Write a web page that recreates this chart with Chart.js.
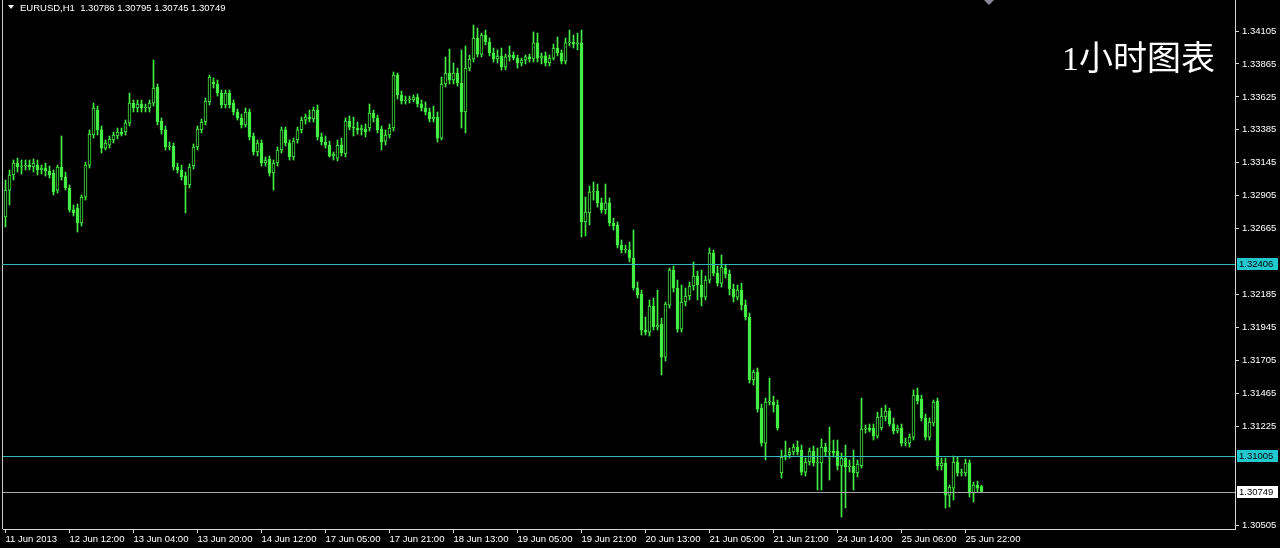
<!DOCTYPE html>
<html>
<head>
<meta charset="utf-8">
<title>EURUSD,H1</title>
<script src="https://cdn.jsdelivr.net/npm/chart.js@4.4.1/dist/chart.umd.min.js"></script>
<style>
  html, body { margin: 0; padding: 0; background: #000; }
  #wrap { width: 1280px; height: 548px; }
</style>
</head>
<body>
<div id="wrap"><canvas id="chart" width="1280" height="548"></canvas></div>
<script>
// EURUSD H1 candles (one bar per hour)
const symbol = 'EURUSD,H1'

const opens = [
  1.32750, 1.32946, 1.33056, 1.33143, 1.33114, 1.33121, 1.33128, 1.33114, 1.33128, 1.33092,
  1.33107, 1.33085, 1.33070, 1.32946, 1.33114, 1.33041, 1.32961, 1.32801, 1.32815, 1.32706,
  1.32895, 1.33128, 1.33347, 1.33529, 1.33384, 1.33252, 1.33274, 1.33311, 1.33340, 1.33369,
  1.33369, 1.33435, 1.33580, 1.33544, 1.33573, 1.33544, 1.33544, 1.33580, 1.33697, 1.33449,
  1.33384, 1.33260, 1.33267, 1.33114, 1.33092, 1.33048, 1.32983, 1.33121, 1.33260, 1.33384,
  1.33442, 1.33588, 1.33733, 1.33719, 1.33653, 1.33566, 1.33653, 1.33580, 1.33515, 1.33471,
  1.33420, 1.33515, 1.33340, 1.33223, 1.33289, 1.33143, 1.33172, 1.33070, 1.33143, 1.33238,
  1.33384, 1.33289, 1.33187, 1.33311, 1.33384, 1.33456, 1.33478, 1.33464, 1.33529, 1.33333,
  1.33296, 1.33274, 1.33194, 1.33179, 1.33274, 1.33209, 1.33449, 1.33405, 1.33398, 1.33384,
  1.33391, 1.33398, 1.33507, 1.33471, 1.33391, 1.33303, 1.33347, 1.33398, 1.33784, 1.33639,
  1.33595, 1.33602, 1.33602, 1.33624, 1.33573, 1.33544, 1.33515, 1.33464, 1.33478, 1.33325,
  1.33719, 1.33799, 1.33748, 1.33799, 1.33726, 1.33515, 1.33835, 1.33901, 1.34054, 1.33937,
  1.34076, 1.34025, 1.33945, 1.33901, 1.33923, 1.33843, 1.33916, 1.33930, 1.33908, 1.33872,
  1.33894, 1.33916, 1.33901, 1.34018, 1.33908, 1.33923, 1.33872, 1.33908, 1.33981, 1.33945,
  1.33886, 1.34018, 1.34025, 1.34010, 1.34018, 1.32713, 1.32779, 1.32932, 1.32939, 1.32852,
  1.32801, 1.32852, 1.32706, 1.32691, 1.32545, 1.32509, 1.32509, 1.32451, 1.32232, 1.32188,
  1.31926, 1.31911, 1.32101, 1.31948, 1.31970, 1.31729, 1.32108, 1.32363, 1.32232, 1.31933,
  1.32130, 1.32174, 1.32247, 1.32320, 1.32254, 1.32166, 1.32290, 1.32487, 1.32341, 1.32268,
  1.32378, 1.32334, 1.32225, 1.32166, 1.32217, 1.32108, 1.32021, 1.31562, 1.31620, 1.31357,
  1.31102, 1.31401, 1.31401, 1.31379, 1.30884, 1.31000, 1.31015, 1.31037, 1.31073, 1.31051,
  1.30891, 1.30964, 1.31044, 1.30957, 1.30957, 1.31073, 1.31037, 1.31044, 1.31044, 1.30935,
  1.30993, 1.30928, 1.30935, 1.30884, 1.30935, 1.31204, 1.31212, 1.31212, 1.31153, 1.31212,
  1.31292, 1.31336, 1.31241, 1.31190, 1.31212, 1.31102, 1.31102, 1.31146, 1.31452, 1.31423,
  1.31285, 1.31146, 1.31248, 1.31409, 1.30935, 1.30957, 1.30723, 1.30774, 1.30964, 1.30884,
  1.30884, 1.30957, 1.30738, 1.30796, 1.30786
]

const highs = [
  1.33019, 1.33092, 1.33165, 1.33179, 1.33165, 1.33165, 1.33165, 1.33172, 1.33165, 1.33128,
  1.33143, 1.33121, 1.33092, 1.33128, 1.33340, 1.33077, 1.32983, 1.32837, 1.32844, 1.32910,
  1.33150, 1.33384, 1.33580, 1.33558, 1.33413, 1.33311, 1.33340, 1.33369, 1.33398, 1.33398,
  1.33456, 1.33653, 1.33602, 1.33602, 1.33602, 1.33573, 1.33602, 1.33894, 1.33719, 1.33471,
  1.33413, 1.33296, 1.33289, 1.33143, 1.33128, 1.33077, 1.33136, 1.33282, 1.33413, 1.33464,
  1.33617, 1.33784, 1.33763, 1.33748, 1.33675, 1.33675, 1.33675, 1.33602, 1.33537, 1.33500,
  1.33544, 1.33537, 1.33362, 1.33311, 1.33311, 1.33187, 1.33194, 1.33165, 1.33260, 1.33405,
  1.33405, 1.33311, 1.33325, 1.33405, 1.33478, 1.33500, 1.33529, 1.33551, 1.33566, 1.33362,
  1.33340, 1.33303, 1.33223, 1.33311, 1.33325, 1.33471, 1.33486, 1.33478, 1.33442, 1.33420,
  1.33427, 1.33573, 1.33529, 1.33493, 1.33413, 1.33384, 1.33427, 1.33806, 1.33799, 1.33668,
  1.33631, 1.33631, 1.33639, 1.33646, 1.33602, 1.33588, 1.33544, 1.33558, 1.33515, 1.33770,
  1.33916, 1.33974, 1.33872, 1.33835, 1.33967, 1.33996, 1.33930, 1.34149, 1.34127, 1.34090,
  1.34112, 1.34054, 1.33981, 1.33967, 1.33981, 1.33937, 1.33996, 1.33952, 1.33930, 1.33908,
  1.33930, 1.33937, 1.34098, 1.34090, 1.33945, 1.33952, 1.33930, 1.34010, 1.34061, 1.33967,
  1.34054, 1.34112, 1.34076, 1.34090, 1.34112, 1.32895, 1.32975, 1.33005, 1.32990, 1.32888,
  1.32990, 1.32888, 1.32742, 1.32713, 1.32582, 1.32545, 1.32567, 1.32655, 1.32276, 1.32217,
  1.32021, 1.32145, 1.32159, 1.32217, 1.32013, 1.32130, 1.32378, 1.32392, 1.32290, 1.32254,
  1.32232, 1.32276, 1.32422, 1.32356, 1.32363, 1.32320, 1.32524, 1.32509, 1.32392, 1.32473,
  1.32400, 1.32363, 1.32261, 1.32254, 1.32268, 1.32145, 1.32050, 1.31634, 1.31649, 1.31387,
  1.31430, 1.31576, 1.31445, 1.31416, 1.31051, 1.31117, 1.31066, 1.31095, 1.31117, 1.31088,
  1.30993, 1.31066, 1.31081, 1.31066, 1.31132, 1.31102, 1.31219, 1.31124, 1.31124, 1.31030,
  1.31088, 1.30979, 1.31051, 1.30979, 1.31430, 1.31234, 1.31241, 1.31241, 1.31328, 1.31357,
  1.31379, 1.31357, 1.31285, 1.31234, 1.31241, 1.31139, 1.31168, 1.31489, 1.31503, 1.31452,
  1.31314, 1.31285, 1.31416, 1.31430, 1.30993, 1.30993, 1.30796, 1.31008, 1.31000, 1.30913,
  1.30986, 1.30979, 1.30818, 1.30825, 1.30795
]

const lows = [
  1.32677, 1.32837, 1.33019, 1.33077, 1.33063, 1.33092, 1.33092, 1.33077, 1.33056, 1.33063,
  1.33048, 1.33034, 1.32910, 1.32924, 1.33019, 1.32946, 1.32786, 1.32757, 1.32640, 1.32684,
  1.32873, 1.33107, 1.33325, 1.33347, 1.33216, 1.33238, 1.33252, 1.33289, 1.33318, 1.33340,
  1.33347, 1.33413, 1.33515, 1.33515, 1.33515, 1.33515, 1.33515, 1.33558, 1.33420, 1.33354,
  1.33238, 1.33238, 1.33092, 1.33070, 1.33019, 1.32779, 1.32961, 1.33099, 1.33238, 1.33362,
  1.33420, 1.33566, 1.33690, 1.33631, 1.33544, 1.33544, 1.33544, 1.33493, 1.33456, 1.33398,
  1.33405, 1.33311, 1.33201, 1.33194, 1.33121, 1.33121, 1.33048, 1.32946, 1.33121, 1.33216,
  1.33267, 1.33165, 1.33165, 1.33289, 1.33362, 1.33427, 1.33442, 1.33442, 1.33311, 1.33274,
  1.33252, 1.33187, 1.33165, 1.33158, 1.33194, 1.33187, 1.33384, 1.33340, 1.33354, 1.33347,
  1.33333, 1.33376, 1.33442, 1.33362, 1.33238, 1.33274, 1.33325, 1.33376, 1.33609, 1.33573,
  1.33573, 1.33580, 1.33588, 1.33551, 1.33522, 1.33493, 1.33442, 1.33442, 1.33296, 1.33311,
  1.33697, 1.33719, 1.33719, 1.33704, 1.33398, 1.33362, 1.33814, 1.33879, 1.33916, 1.33916,
  1.34003, 1.33923, 1.33879, 1.33872, 1.33821, 1.33821, 1.33886, 1.33894, 1.33835, 1.33850,
  1.33865, 1.33879, 1.33879, 1.33879, 1.33865, 1.33850, 1.33850, 1.33894, 1.33923, 1.33865,
  1.33865, 1.33996, 1.33981, 1.33967, 1.32604, 1.32611, 1.32691, 1.32873, 1.32822, 1.32779,
  1.32771, 1.32684, 1.32655, 1.32524, 1.32487, 1.32487, 1.32422, 1.32217, 1.32159, 1.31890,
  1.31890, 1.31882, 1.31926, 1.31926, 1.31598, 1.31700, 1.32086, 1.32203, 1.31911, 1.31911,
  1.32101, 1.32145, 1.32217, 1.32145, 1.32101, 1.32145, 1.32268, 1.32320, 1.32247, 1.32239,
  1.32305, 1.32181, 1.32130, 1.32145, 1.32072, 1.31999, 1.31540, 1.31525, 1.31328, 1.31081,
  1.30979, 1.31379, 1.31328, 1.31197, 1.30847, 1.30979, 1.30993, 1.31015, 1.31015, 1.30869,
  1.30862, 1.30942, 1.30935, 1.30760, 1.30760, 1.31008, 1.30833, 1.31000, 1.30906, 1.30563,
  1.30629, 1.30891, 1.30760, 1.30855, 1.30920, 1.31175, 1.31183, 1.31124, 1.31139, 1.31197,
  1.31263, 1.31226, 1.31168, 1.31175, 1.31081, 1.31081, 1.31073, 1.31124, 1.31387, 1.31263,
  1.31124, 1.31124, 1.31226, 1.30906, 1.30906, 1.30629, 1.30636, 1.30687, 1.30862, 1.30862,
  1.30862, 1.30709, 1.30672, 1.30745, 1.30745
]

const closes = [
  1.32946, 1.33056, 1.33143, 1.33114, 1.33121, 1.33128, 1.33114, 1.33143, 1.33092, 1.33107,
  1.33085, 1.33056, 1.32932, 1.33114, 1.33041, 1.32961, 1.32801, 1.32779, 1.32706, 1.32895,
  1.33128, 1.33354, 1.33544, 1.33384, 1.33252, 1.33289, 1.33318, 1.33347, 1.33369, 1.33354,
  1.33435, 1.33580, 1.33544, 1.33573, 1.33544, 1.33551, 1.33580, 1.33690, 1.33442, 1.33384,
  1.33260, 1.33267, 1.33114, 1.33092, 1.33041, 1.32983, 1.33114, 1.33260, 1.33391, 1.33442,
  1.33595, 1.33770, 1.33719, 1.33653, 1.33566, 1.33653, 1.33566, 1.33515, 1.33471, 1.33420,
  1.33515, 1.33333, 1.33223, 1.33289, 1.33143, 1.33165, 1.33070, 1.33143, 1.33238, 1.33384,
  1.33289, 1.33187, 1.33303, 1.33384, 1.33456, 1.33478, 1.33464, 1.33529, 1.33333, 1.33296,
  1.33274, 1.33194, 1.33209, 1.33274, 1.33216, 1.33449, 1.33405, 1.33398, 1.33384, 1.33398,
  1.33369, 1.33507, 1.33471, 1.33384, 1.33296, 1.33347, 1.33398, 1.33784, 1.33639, 1.33595,
  1.33602, 1.33609, 1.33624, 1.33573, 1.33544, 1.33515, 1.33464, 1.33478, 1.33325, 1.33719,
  1.33799, 1.33748, 1.33799, 1.33726, 1.33515, 1.33835, 1.33901, 1.34054, 1.33937, 1.34076,
  1.34025, 1.33945, 1.33901, 1.33923, 1.33843, 1.33916, 1.33930, 1.33908, 1.33872, 1.33894,
  1.33916, 1.33901, 1.34018, 1.33908, 1.33923, 1.33872, 1.33908, 1.33981, 1.33945, 1.33886,
  1.34018, 1.34025, 1.34010, 1.34018, 1.32713, 1.32786, 1.32932, 1.32939, 1.32852, 1.32801,
  1.32852, 1.32706, 1.32684, 1.32545, 1.32509, 1.32516, 1.32451, 1.32232, 1.32181, 1.31926,
  1.31911, 1.32101, 1.31948, 1.31962, 1.31729, 1.32115, 1.32363, 1.32232, 1.31933, 1.32130,
  1.32174, 1.32247, 1.32320, 1.32254, 1.32166, 1.32290, 1.32487, 1.32341, 1.32268, 1.32385,
  1.32334, 1.32225, 1.32166, 1.32217, 1.32108, 1.32021, 1.31562, 1.31620, 1.31350, 1.31102,
  1.31401, 1.31409, 1.31379, 1.31212, 1.31000, 1.31015, 1.31037, 1.31073, 1.31037, 1.30891,
  1.30964, 1.31044, 1.30957, 1.30964, 1.31073, 1.31037, 1.31044, 1.31030, 1.30935, 1.30993,
  1.30928, 1.30935, 1.30884, 1.30949, 1.31204, 1.31212, 1.31197, 1.31153, 1.31292, 1.31299,
  1.31336, 1.31241, 1.31190, 1.31212, 1.31102, 1.31110, 1.31146, 1.31452, 1.31409, 1.31285,
  1.31146, 1.31255, 1.31401, 1.30935, 1.30957, 1.30723, 1.30782, 1.30964, 1.30884, 1.30891,
  1.30957, 1.30738, 1.30796, 1.30774, 1.30749
]

// one label every 16 bars
const xTickLabels = [
  '11 Jun 2013', '12 Jun 12:00', '13 Jun 04:00', '13 Jun 20:00', '14 Jun 12:00', '17 Jun 05:00',
  '17 Jun 21:00', '18 Jun 13:00', '19 Jun 05:00', '19 Jun 21:00', '20 Jun 13:00', '21 Jun 05:00',
  '21 Jun 21:00', '24 Jun 14:00', '25 Jun 06:00', '25 Jun 22:00'
]
const xTickStep = 16

const yTickValues = [
  1.34105, 1.33865, 1.33625, 1.33385, 1.33145, 1.32905, 1.32665,
  1.32185, 1.31945, 1.31705, 1.31465, 1.31225, 1.30505
]

// horizontal lines drawn on the chart
const levels = [1.32406, 1.31005]
const chartLabel = '1小时图表'

// colours
const candleColor = '#44ee44'
const levelColor = '#30b8b8'
const levelBoxColor = '#22c8d0'
const lastLineColor = '#a8a8a8'
const axisColor = '#d8d8d8'
const tickFont = { family: 'Liberation Sans', size: 9.5 }

const last = closes.length - 1
const isBull = i => closes[i] > opens[i]

const bodyData = opens.map((o, i) => ({ x: i, y: [o, closes[i]] }))
const wickData = lows.map((l, i) => ({ x: i, y: [l, highs[i]] }))

const overlay = {
  id: 'overlay',
  afterDatasetsDraw(chart) {
    const { ctx, chartArea, scales: { y } } = chart
    ctx.save()
    ctx.lineWidth = 1
    // lines for the levels and the last price
    const lineAt = (v, color) => {
      const py = Math.round(y.getPixelForValue(v)) + 0.5
      ctx.strokeStyle = color
      ctx.beginPath()
      ctx.moveTo(chartArea.left, py)
      ctx.lineTo(chartArea.right, py)
      ctx.stroke()
    }
    levels.forEach(v => lineAt(v, levelColor))
    lineAt(closes[last], lastLineColor)
    ctx.restore()
  },
  afterDraw(chart) {
    const { ctx, chartArea, scales: { x, y } } = chart
    ctx.save()

    // price boxes on the axis
    const box = (v, bg) => {
      const py = Math.round(y.getPixelForValue(v))
      ctx.fillStyle = bg
      ctx.fillRect(chartArea.right + 2, py - 6, 41, 12)
      ctx.fillStyle = '#000'
      ctx.font = `${tickFont.size}px "${tickFont.family}"`
      ctx.textBaseline = 'middle'
      ctx.textAlign = 'left'
      ctx.fillText(v.toFixed(5), chartArea.right + 4, py + 0.5)
    }
    levels.forEach(v => box(v, levelBoxColor))
    box(closes[last], '#ffffff')

    // left frame line
    ctx.strokeStyle = '#c8c8c8'
    ctx.lineWidth = 1
    ctx.beginPath()
    ctx.moveTo(2.5, 0)
    ctx.lineTo(2.5, chartArea.bottom)
    ctx.stroke()

    // header: symbol and last bar OHLC
    ctx.fillStyle = '#ffffff'
    ctx.beginPath()
    ctx.moveTo(8, 5)
    ctx.lineTo(14, 5)
    ctx.lineTo(11, 9)
    ctx.closePath()
    ctx.fill()
    ctx.font = `${tickFont.size}px "${tickFont.family}"`
    ctx.textBaseline = 'alphabetic'
    ctx.textAlign = 'left'
    const ohlc = [opens[last], highs[last], lows[last], closes[last]].map(v => v.toFixed(5)).join(' ')
    ctx.fillText(`${symbol}  ${ohlc}`, 20, 11)

    // chart shift marker
    const sx = Math.round(x.getPixelForValue(last + 1.75))
    ctx.fillStyle = '#8a8a9a'
    ctx.beginPath()
    ctx.moveTo(sx - 5, 0)
    ctx.lineTo(sx + 5, 0)
    ctx.lineTo(sx, 5)
    ctx.closePath()
    ctx.fill()

    // title
    ctx.fillStyle = '#ffffff'
    ctx.font = '34px "Liberation Serif", "Noto Sans CJK SC"'
    ctx.textAlign = 'right'
    ctx.fillText(chartLabel, chartArea.right - 20, 70)

    ctx.restore()
  }
}

new Chart(document.getElementById('chart'), {
  type: 'bar',
  data: {
    datasets: [
      {
        label: 'body',
        data: bodyData,
        grouped: false,
        barThickness: 3,
        minBarLength: 1,
        borderWidth: 1,
        borderSkipped: false,
        borderColor: candleColor,
        backgroundColor: ctx => (isBull(ctx.dataIndex) ? '#000000' : candleColor)
      },
      {
        label: 'wick',
        data: wickData,
        grouped: false,
        barThickness: 1,
        borderWidth: 0,
        backgroundColor: candleColor
      }
    ]
  },
  plugins: [overlay],
  options: {
    responsive: false,
    animation: false,
    devicePixelRatio: 1,
    layout: { padding: { left: 3, top: 0, right: 0, bottom: 0 } },
    plugins: {
      legend: { display: false },
      tooltip: { enabled: false }
    },
    scales: {
      x: {
        type: 'linear',
        min: -0.625,
        max: 307.375,
        offset: false,
        afterFit: scale => {
          scale.height = 19
          scale.paddingLeft = 0
          scale.paddingRight = 0
        },
        afterBuildTicks: scale => {
          scale.ticks = xTickLabels.map((_, k) => ({ value: k * xTickStep }))
        },
        grid: { offset: false, drawOnChartArea: false, drawTicks: true, tickLength: 4, color: axisColor },
        border: { display: true, color: axisColor, width: 1 },
        ticks: {
          color: '#ffffff',
          font: tickFont,
          padding: 1,
          align: 'start',
          autoSkip: false,
          maxRotation: 0,
          callback: (value, index) => xTickLabels[index]
        }
      },
      y: {
        position: 'right',
        min: 1.30476,
        max: 1.34331,
        afterFit: scale => {
          scale.width = 45
          scale.paddingTop = 0
          scale.paddingBottom = 0
        },
        afterBuildTicks: scale => {
          scale.ticks = yTickValues.map(v => ({ value: v }))
        },
        grid: { drawOnChartArea: false, drawTicks: true, tickLength: 4, color: axisColor },
        border: { display: true, color: axisColor, width: 1 },
        ticks: {
          color: '#ffffff',
          font: tickFont,
          padding: 3,
          callback: value => value.toFixed(5)
        }
      }
    }
  }
})
</script>
</body>
</html>
